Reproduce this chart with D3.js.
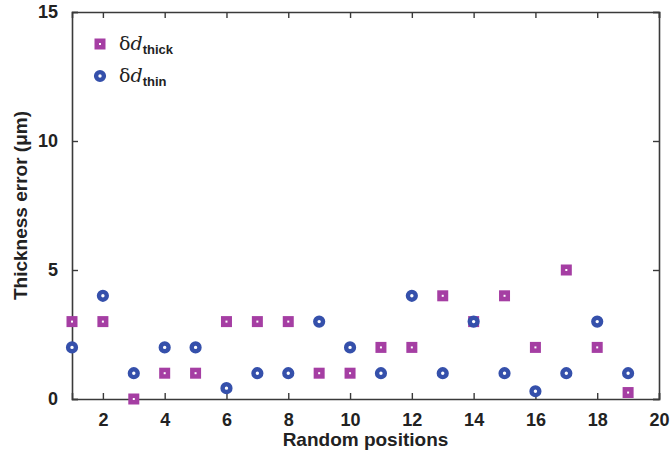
<!DOCTYPE html>
<html>
<head>
<meta charset="utf-8">
<script src="https://cdn.jsdelivr.net/npm/d3@7"></script>
<style>
  body { margin: 0; background: #fff; }
  svg { font-family: 'Liberation Sans', Arial, sans-serif; }
</style>
</head>
<body>
<svg id="chart"></svg>
<script>
const POSITIONS = [1, 2, 3, 4, 5, 6, 7, 8, 9, 10, 11, 12, 13, 14, 15, 16, 17, 18, 19]
const THICK = [3, 3, 0, 1, 1, 3, 3, 3, 1, 1, 2, 2, 4, 3, 4, 2, 5, 2, 0.25]
const THIN = [2, 4, 1, 2, 2, 0.42, 1, 1, 3, 2, 1, 4, 1, 3, 1, 0.3, 1, 3, 1]
const X_TICKS = [2, 4, 6, 8, 10, 12, 14, 16, 18, 20]
const Y_TICKS = [0, 5, 10, 15]

const width = 671
const height = 455
const margin = { top: 12, right: 12, bottom: 56, left: 72 }

const PURPLE = '#a53ea3'
const BLUE = '#3550ab'
const AXIS = '#3a3a3a'

const svg = d3.select('#chart')
    .attr('width', width)
    .attr('height', height)

const x = d3.scaleLinear()
    .domain([1, 20])
    .range([margin.left, width - margin.right])

const y = d3.scaleLinear()
    .domain([0, 15])
    .range([height - margin.bottom, margin.top])

// axes with inward ticks, boxed
const axisBottomG = svg.append('g')
    .attr('transform', `translate(0,${y(0)})`)
    .call(d3.axisBottom(x).tickValues(X_TICKS).tickSize(-6).tickPadding(14))
const axisTopG = svg.append('g')
    .attr('transform', `translate(0,${y(15)})`)
    .call(d3.axisTop(x).tickValues(X_TICKS).tickSize(-6).tickFormat(''))
const axisLeftG = svg.append('g')
    .attr('transform', `translate(${x(1)},0)`)
    .call(d3.axisLeft(y).tickValues(Y_TICKS).tickSize(-6).tickPadding(14))
const axisRightG = svg.append('g')
    .attr('transform', `translate(${x(20)},0)`)
    .call(d3.axisRight(y).tickValues(Y_TICKS).tickSize(-6).tickFormat(''))

;[axisBottomG, axisTopG, axisLeftG, axisRightG].forEach(g => {
    g.select('.domain').attr('stroke', AXIS).attr('stroke-width', 1.6)
    g.selectAll('.tick line').attr('stroke', AXIS).attr('stroke-width', 1.4)
    g.selectAll('.tick text')
        .attr('fill', '#222')
        .style('font-size', '18px')
        .style('font-weight', 'bold')
})

svg.append('text')
    .attr('x', (x(1) + x(20)) / 2)
    .attr('y', 446)
    .attr('text-anchor', 'middle')
    .style('font-size', '19px')
    .style('font-weight', 'bold')
    .attr('fill', '#222')
    .text('Random positions')

svg.append('text')
    .attr('transform', `translate(27,${y(7.5)}) rotate(-90)`)
    .attr('text-anchor', 'middle')
    .style('font-size', '19px')
    .style('font-weight', 'bold')
    .attr('fill', '#222')
    .text('Thickness error (\u03bcm)')

function drawSquare(g, cx, cy) {
    g.append('rect')
        .attr('x', cx - 5.5).attr('y', cy - 5.5)
        .attr('width', 11).attr('height', 11)
        .attr('fill', PURPLE)
    g.append('rect')
        .attr('x', cx - 1).attr('y', cy - 1)
        .attr('width', 2).attr('height', 2)
        .attr('fill', '#fff')
}

function drawRing(g, cx, cy) {
    g.append('circle')
        .attr('cx', cx).attr('cy', cy).attr('r', 3.9)
        .attr('fill', '#fff')
        .attr('stroke', BLUE)
        .attr('stroke-width', 4.4)
}

const marks = svg.append('g')
POSITIONS.forEach((p, i) => drawSquare(marks, x(p), y(THICK[i])))
POSITIONS.forEach((p, i) => drawRing(marks, x(p), y(THIN[i])))

// legend
const legend = svg.append('g')
drawSquare(legend, 100, 44)
drawRing(legend, 100, 76)

const legendText = [['thick', 44], ['thin', 76]]
legendText.forEach(([sub, ly]) => {
    const t = legend.append('text')
        .attr('x', 119)
        .attr('y', ly + 6)
        .attr('fill', '#222')
        .style('font-family', "'DejaVu Serif', 'Liberation Serif', serif")
        .style('font-size', '19px')
    t.append('tspan').text('\u03b4')
    t.append('tspan').style('font-style', 'italic').text('d')
    t.append('tspan')
        .attr('dy', 4)
        .style('font-family', "'Liberation Sans', Arial, sans-serif")
        .style('font-size', '13px')
        .style('font-weight', 'bold')
        .text(sub)
})
</script>
</body>
</html>
